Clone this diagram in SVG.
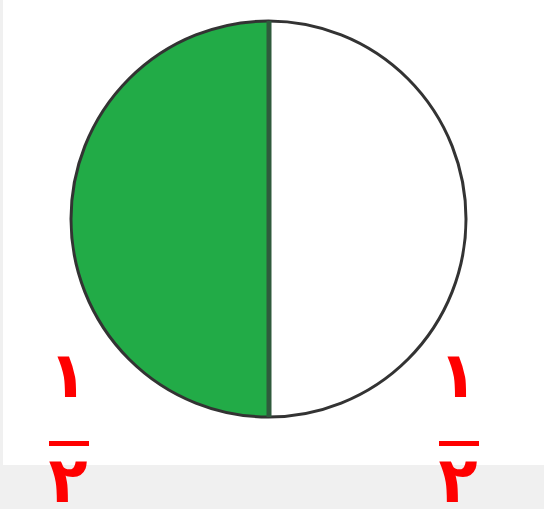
<svg xmlns="http://www.w3.org/2000/svg" width="544" height="509" viewBox="0 0 544 509">
<style>
.num{fill:#ff0000;font-family:"DejaVu Sans",sans-serif;font-weight:bold;font-size:64px;text-anchor:middle}
.bar{fill:#ff0000}
</style>
<rect x="0" y="0" width="544" height="509" fill="#f0f0f0"/>
<rect x="3" y="0" width="541" height="465" fill="#ffffff"/>
<g id="circle">
<path d="M269,21 A197.5,198 0 0 0 269,417 Z" fill="#22ab47"/>
<ellipse cx="268.5" cy="219" rx="197.5" ry="198" fill="none" stroke="#333333" stroke-width="3"/>
<line x1="269" y1="21" x2="269" y2="417" stroke="#2f5a3c" stroke-width="5"/>
</g>
<g id="fraction-left">
<text class="num" x="68" y="397">١</text>
<rect class="bar" x="49" y="441" width="40" height="5"/>
<text class="num" x="68" y="502">٢</text>
</g>
<g id="fraction-right">
<text class="num" x="458" y="397">١</text>
<rect class="bar" x="439" y="441" width="40" height="5"/>
<text class="num" x="458" y="502">٢</text>
</g>
</svg>
